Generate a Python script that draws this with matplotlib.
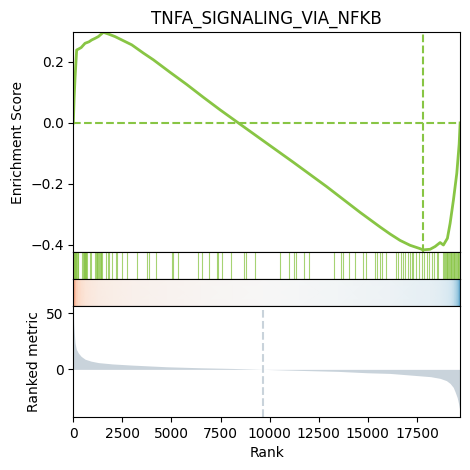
import numpy as np
import matplotlib
matplotlib.use("Agg")
import matplotlib.pyplot as plt

title = "TNFA_SIGNALING_VIA_NFKB"
n_genes = 19700

# running enrichment score (rank, ES)
es_rank = [0, 40, 90, 170, 260, 400, 596, 800, 937, 1100, 1275, 1530, 1800, 2124,
           2975, 3566, 4075, 4926, 5777, 6623, 7473, 8405, 9511, 11207, 12908,
           14604, 15623, 16133, 16643, 17152, 17662, 17800, 18171, 18426, 18680,
           18848, 19052, 19190, 19360, 19530, 19650, 19700]
es_vals = [0, 0.08, 0.15, 0.239, 0.242, 0.247, 0.261, 0.266, 0.272, 0.277, 0.283,
           0.297, 0.291, 0.283, 0.256, 0.229, 0.207, 0.166, 0.126, 0.084, 0.043,
           0.0, -0.051, -0.129, -0.209, -0.293, -0.341, -0.364, -0.385, -0.401,
           -0.412, -0.416, -0.414, -0.405, -0.392, -0.400, -0.378, -0.329, -0.252,
           -0.165, -0.07, 0.0]

# ranked metric (rank, value)
met_rank = [0, 20, 50, 87, 150, 255, 400, 600, 900, 1275, 2000, 2975, 4757, 6500,
            8140, 9665, 11500, 13500, 14950, 16130, 17490, 18200, 18680, 19000,
            19190, 19350, 19445, 19550, 19615, 19670, 19700]
met_vals = [51.8, 40, 32, 23.5, 18, 14.5, 11.5, 9, 7.3, 6, 4.8, 3.8, 2.3, 1.4, 0.8,
            0, -0.9, -1.8, -3, -3.6, -5.5, -6.5, -8, -10, -12.5, -16, -20, -25,
            -30, -35, -37.8]

# gene set hit positions (ranks)
hits = [5, 30, 55, 80, 105, 130, 160, 190, 220, 250,
        460, 490, 520, 550, 580, 610, 640, 670, 700, 850, 900,
        1110, 1150, 1190, 1230, 1270, 1310, 1350, 1390, 1430, 1470,
        1666, 1752, 1834, 1956, 2175, 2226, 2465, 2720, 3260, 3739, 3856, 4213,
        5012, 5094, 5349, 6368, 6540, 6928, 7335, 7386, 7590, 8018, 8711, 8797,
        9256, 10530, 11004, 11258, 11330, 11752, 12022, 13296,
        13637, 13754, 14060, 14350, 14773, 14895, 15369, 15486, 15624, 15741,
        15929, 16438, 16525, 16678, 16810, 16897, 17065, 17152, 17238, 17320,
        17457, 17625, 17747, 17865, 18002, 18104, 18257, 18390, 18512, 18594,
        18850, 18890, 18930, 18970, 19010, 19050, 19090, 19130, 19170, 19210,
        19250, 19290, 19330, 19370, 19410, 19450, 19490, 19530, 19570, 19610,
        19650, 19690]

green = "#88C544"
grey = "#C9D3DB"

fig = plt.figure(figsize=(4.7, 4.7), dpi=100)
L, W = 0.156, 0.823

# ES axis
ax_es = fig.add_axes([L, 0.4638, W, 0.4681])
ax_es.plot(es_rank, es_vals, color=green, lw=2)
ax_es.axhline(0, color=green, ls="--", lw=1.5)
imin = int(np.argmin(es_vals))
ax_es.axvline(es_rank[imin], color=green, ls="--", lw=1.5)
ax_es.set_xlim(0, n_genes)
ax_es.set_ylim(-0.423, 0.298)
ax_es.set_yticks([-0.4, -0.2, 0.0, 0.2])
ax_es.set_xticks([])
ax_es.set_ylabel("Enrichment Score")
ax_es.set_title(title, fontsize=12)

# hits axis
ax_h = fig.add_axes([L, 0.4064, W, 0.0574])
ax_h.vlines(hits, 0, 1, color=green, lw=0.8, alpha=0.75)
ax_h.set_xlim(0, n_genes)
ax_h.set_ylim(0, 1)
ax_h.set_xticks([])
ax_h.set_yticks([])

# color bar axis
ax_c = fig.add_axes([L, 0.3489, W, 0.0574])
vmax = 1.35 * max(abs(min(met_vals)), max(met_vals))
X, Y = np.meshgrid(met_rank, [0, 1])
C = np.vstack([met_vals, met_vals])
ax_c.pcolormesh(X, Y, C, cmap="RdBu_r", vmin=-vmax, vmax=vmax, shading="gouraud")
ax_c.set_xlim(0, n_genes)
ax_c.set_ylim(0, 1)
ax_c.set_xticks([])
ax_c.set_yticks([])

# ranked metric axis
ax_r = fig.add_axes([L, 0.1128, W, 0.2362])
ax_r.fill_between(met_rank, met_vals, 0, color=grey, lw=0)
zero_idx = met_rank[met_vals.index(0)]
ax_r.axvline(zero_idx, ymin=0, ymax=0.96, color=grey, ls="--", lw=1.5)
ax_r.set_xlim(0, n_genes)
ax_r.set_yticks([0, 50])
ax_r.set_xticks([0, 2500, 5000, 7500, 10000, 12500, 15000, 17500])
ax_r.set_ylabel("Ranked metric")
ax_r.set_xlabel("Rank")

fig.savefig("out.png", dpi=100)
